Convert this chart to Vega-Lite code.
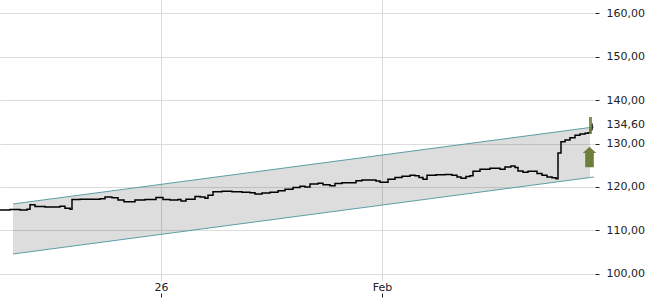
{
  "$schema": "https://vega.github.io/schema/vega-lite/v6.json",
  "width": 594,
  "height": 281,
  "autosize": {"type": "none"},
  "padding": {"left": 0, "top": 0, "right": 56, "bottom": 19},
  "background": "white",
  "config": {
    "view": {"stroke": null},
    "font": "DejaVu Sans",
    "axis": {"labelFont": "DejaVu Sans", "labelFontSize": 11, "labelColor": "#222", "domain": false, "gridColor": "#dcdcdc", "gridWidth": 1, "tickColor": "#222", "title": null}
  },
  "encoding": {
    "x": {
      "field": "t", "type": "temporal",
      "scale": {"domain": ["2025-12-09T10:05:00", "2026-03-02T17:50:00"]},
      "axis": {
        "values": [{"year": 2026, "month": 1, "date": 1}, {"year": 2026, "month": 2, "date": 1}],
        "labelExpr": "month(datum.value) == 0 ? timeFormat(datum.value, '%y') : timeFormat(datum.value, '%b')",
        "offset": 12, "tickSize": 4, "labelPadding": -16, "grid": true, "labelAlign": "center"
      }
    },
    "y": {
      "field": "v", "type": "quantitative",
      "scale": {"domain": [98.39, 162.99], "nice": false, "zero": false},
      "axis": {
        "orient": "right",
        "values": [100, 110, 120, 130, 140, 150, 160, 134.6],
        "labelExpr": "replace(format(datum.value, '.2f'), '.', ',')",
        "offset": 1, "tickSize": 4, "labelPadding": 7, "grid": true,
        "labelOffset": {"condition": {"test": "datum.value === 134.6", "value": 1.5}, "value": 0},
        "gridOpacity": {"condition": {"test": "datum.value === 134.6", "value": 0}, "value": 1},
        "tickOpacity": {"condition": {"test": "datum.value === 134.6", "value": 0}, "value": 1}
      }
    }
  },
  "layer": [
    {
      "data": {"values": [
        {"t": "2025-12-11T05:51:00", "v": 116.1, "v2": 104.6},
        {"t": "2026-03-02T04:22:00", "v": 133.7, "v2": 122.2}
      ]},
      "mark": {"type": "area", "color": "#000", "opacity": 0.135},
      "encoding": {"y2": {"field": "v2"}}
    },
    {
      "data": {"values": [
        {"t": "2025-12-11T05:51:00", "v": 116.1, "edge": "upper"},
        {"t": "2026-03-02T17:50:00", "v": 133.8, "edge": "upper"},
        {"t": "2025-12-11T05:51:00", "v": 104.6, "edge": "lower"},
        {"t": "2026-03-02T17:50:00", "v": 122.3, "edge": "lower"}
      ]},
      "mark": {"type": "line", "color": "#5b9ea6", "strokeWidth": 1},
      "encoding": {"detail": {"field": "edge"}}
    },
    {
      "data": {"values": [
        {"t": "2025-12-09T10:05:00", "v": 114.7},
        {"t": "2025-12-10T19:45:00", "v": 114.8},
        {"t": "2025-12-12T05:25:00", "v": 114.7},
        {"t": "2025-12-13T04:59:00", "v": 114.9},
        {"t": "2025-12-13T15:05:00", "v": 115.9},
        {"t": "2025-12-14T07:55:00", "v": 115.5},
        {"t": "2025-12-15T17:35:00", "v": 115.4},
        {"t": "2025-12-17T03:14:00", "v": 115.4},
        {"t": "2025-12-17T20:05:00", "v": 115.6},
        {"t": "2025-12-18T12:55:00", "v": 115.1},
        {"t": "2025-12-19T05:44:00", "v": 114.9},
        {"t": "2025-12-19T12:29:00", "v": 117.1},
        {"t": "2025-12-20T15:25:00", "v": 117.2},
        {"t": "2025-12-22T01:04:00", "v": 117.2},
        {"t": "2025-12-23T10:44:00", "v": 117.3},
        {"t": "2025-12-24T03:34:00", "v": 117.7},
        {"t": "2025-12-25T03:08:00", "v": 117.5},
        {"t": "2025-12-25T23:20:00", "v": 117.0},
        {"t": "2025-12-26T19:32:00", "v": 116.6},
        {"t": "2025-12-27T15:44:00", "v": 116.6},
        {"t": "2025-12-28T08:34:00", "v": 117.0},
        {"t": "2025-12-29T18:14:00", "v": 117.1},
        {"t": "2025-12-30T17:48:00", "v": 117.1},
        {"t": "2025-12-31T07:16:00", "v": 117.6},
        {"t": "2026-01-01T06:50:00", "v": 117.1},
        {"t": "2026-01-02T06:24:00", "v": 117.0},
        {"t": "2026-01-03T09:20:00", "v": 117.1},
        {"t": "2026-01-03T19:26:00", "v": 116.8},
        {"t": "2026-01-04T12:16:00", "v": 117.2},
        {"t": "2026-01-05T18:34:00", "v": 117.8},
        {"t": "2026-01-06T11:24:00", "v": 117.7},
        {"t": "2026-01-07T04:14:00", "v": 117.4},
        {"t": "2026-01-07T14:20:00", "v": 118.1},
        {"t": "2026-01-08T07:10:00", "v": 118.9},
        {"t": "2026-01-09T13:28:00", "v": 119.0},
        {"t": "2026-01-10T23:08:00", "v": 118.9},
        {"t": "2026-01-12T08:48:00", "v": 118.8},
        {"t": "2026-01-13T11:44:00", "v": 118.7},
        {"t": "2026-01-14T04:34:00", "v": 118.4},
        {"t": "2026-01-15T04:08:00", "v": 118.6},
        {"t": "2026-01-16T07:04:00", "v": 118.8},
        {"t": "2026-01-17T09:59:00", "v": 119.15},
        {"t": "2026-01-18T09:34:00", "v": 119.5},
        {"t": "2026-01-19T12:29:00", "v": 119.9},
        {"t": "2026-01-20T12:04:00", "v": 120.2},
        {"t": "2026-01-21T04:53:00", "v": 120.0},
        {"t": "2026-01-21T21:44:00", "v": 120.7},
        {"t": "2026-01-23T00:40:00", "v": 120.85},
        {"t": "2026-01-23T17:29:00", "v": 120.5},
        {"t": "2026-01-24T17:04:00", "v": 120.3},
        {"t": "2026-01-25T09:53:00", "v": 120.8},
        {"t": "2026-01-26T09:28:00", "v": 121.0},
        {"t": "2026-01-27T12:23:00", "v": 121.0},
        {"t": "2026-01-28T08:35:00", "v": 121.45},
        {"t": "2026-01-29T04:47:00", "v": 121.6},
        {"t": "2026-01-30T07:43:00", "v": 121.6},
        {"t": "2026-01-31T03:55:00", "v": 121.4},
        {"t": "2026-01-31T17:23:00", "v": 121.1},
        {"t": "2026-02-01T06:51:00", "v": 121.1},
        {"t": "2026-02-01T20:19:00", "v": 121.8},
        {"t": "2026-02-02T19:53:00", "v": 122.2},
        {"t": "2026-02-03T19:27:00", "v": 122.5},
        {"t": "2026-02-04T22:23:00", "v": 122.7},
        {"t": "2026-02-05T15:13:00", "v": 122.6},
        {"t": "2026-02-06T04:41:00", "v": 122.2},
        {"t": "2026-02-06T18:09:00", "v": 121.8},
        {"t": "2026-02-07T07:37:00", "v": 122.7},
        {"t": "2026-02-08T13:55:00", "v": 122.8},
        {"t": "2026-02-09T20:13:00", "v": 122.9},
        {"t": "2026-02-10T19:47:00", "v": 122.7},
        {"t": "2026-02-11T12:37:00", "v": 122.3},
        {"t": "2026-02-12T02:05:00", "v": 122.0},
        {"t": "2026-02-12T18:55:00", "v": 122.4},
        {"t": "2026-02-13T08:23:00", "v": 122.6},
        {"t": "2026-02-13T18:29:00", "v": 123.6},
        {"t": "2026-02-14T18:03:00", "v": 124.1},
        {"t": "2026-02-16T03:43:00", "v": 124.3},
        {"t": "2026-02-17T03:17:00", "v": 124.3},
        {"t": "2026-02-17T13:23:00", "v": 124.1},
        {"t": "2026-02-18T06:13:00", "v": 124.6},
        {"t": "2026-02-19T02:25:00", "v": 124.8},
        {"t": "2026-02-19T15:53:00", "v": 124.5},
        {"t": "2026-02-20T01:59:00", "v": 123.7},
        {"t": "2026-02-20T18:49:00", "v": 123.4},
        {"t": "2026-02-21T11:38:00", "v": 123.6},
        {"t": "2026-02-22T04:29:00", "v": 123.6},
        {"t": "2026-02-22T17:56:00", "v": 123.1},
        {"t": "2026-02-23T10:47:00", "v": 122.7},
        {"t": "2026-02-24T03:37:00", "v": 122.3},
        {"t": "2026-02-24T20:26:00", "v": 122.1},
        {"t": "2026-02-25T09:55:00", "v": 121.9},
        {"t": "2026-02-25T16:38:00", "v": 127.8},
        {"t": "2026-02-26T02:44:00", "v": 130.4},
        {"t": "2026-02-26T16:13:00", "v": 130.8},
        {"t": "2026-02-27T09:02:00", "v": 131.3},
        {"t": "2026-02-28T01:53:00", "v": 131.9},
        {"t": "2026-02-28T18:43:00", "v": 132.2},
        {"t": "2026-03-01T11:32:00", "v": 132.35},
        {"t": "2026-03-01T21:38:00", "v": 132.5},
        {"t": "2026-03-02T04:22:00", "v": 133.2},
        {"t": "2026-03-02T11:07:00", "v": 134.6}
      ]},
      "mark": {"type": "line", "color": "#000", "strokeWidth": 1.5, "interpolate": "step-after"}
    },
    {
      "data": {"values": [{"t": "2026-03-02T06:00:00", "v": 132.2, "v2": 136.1}]},
      "mark": {"type": "rule", "color": "#6e7f3a", "strokeWidth": 3, "opacity": 0.85},
      "encoding": {"y2": {"field": "v2"}}
    },
    {
      "data": {"values": [{"t": "2026-03-02T02:42:00", "v": 126.9}]},
      "mark": {"type": "point", "filled": true, "color": "#6e7f3a", "opacity": 1, "size": 420,
        "shape": "M0,-1 L0.65,-0.4 L0.42,-0.4 L0.42,1 L-0.42,1 L-0.42,-0.4 L-0.65,-0.4 Z"}
    }
  ]
}
